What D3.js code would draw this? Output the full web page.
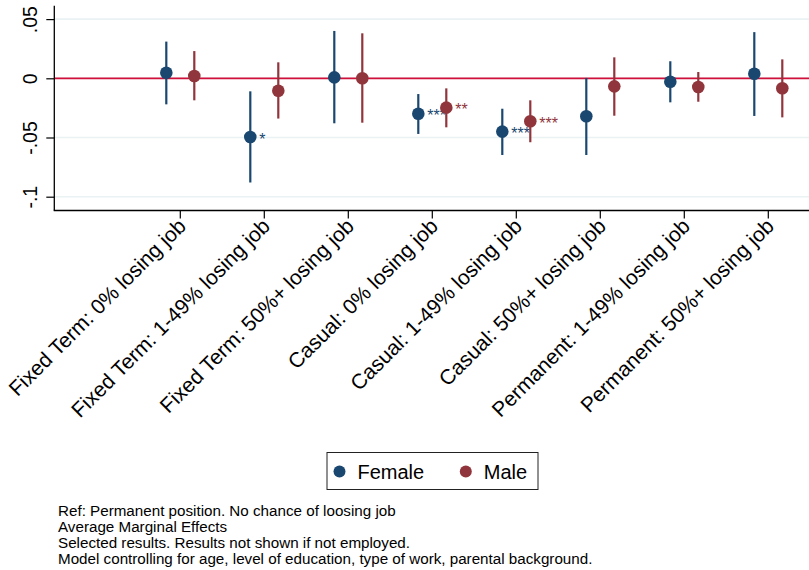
<!DOCTYPE html>
<html>
<head>
<meta charset="utf-8">
<script src="https://cdn.jsdelivr.net/npm/d3@7"></script>
<style>
  html, body { margin: 0; padding: 0; background: #fff; }
  svg { display: block; font-family: "Liberation Sans", Arial, Helvetica, sans-serif; }
</style>
</head>
<body>
<svg id="chart" width="809" height="570"></svg>
<script>
// Contract type x perceived chance of losing the job (reference: Permanent, 0%)
const categories = [
  "Fixed Term: 0% losing job",
  "Fixed Term: 1-49% losing job",
  "Fixed Term: 50%+ losing job",
  "Casual: 0% losing job",
  "Casual: 1-49% losing job",
  "Casual: 50%+ losing job",
  "Permanent: 1-49% losing job",
  "Permanent: 50%+ losing job"
];

// Average marginal effects with 95% confidence bounds
const femaleEst   = [0.0047, -0.0496, 0.0008, -0.0300, -0.0450, -0.0321, -0.0029, 0.0039];
const femaleLow   = [-0.0220, -0.0880, -0.0380, -0.0470, -0.0648, -0.0648, -0.0203, -0.0318];
const femaleHigh  = [0.0310, -0.0110, 0.0400, -0.0133, -0.0257, 0.0003, 0.0144, 0.0390];
const femaleStars = ["", "*", "", "***", "***", "", "", ""];

const maleEst   = [0.0020, -0.0105, 0.0000, -0.0248, -0.0363, -0.0068, -0.0073, -0.0084];
const maleLow   = [-0.0186, -0.0340, -0.0375, -0.0414, -0.0540, -0.0316, -0.0198, -0.0330];
const maleHigh  = [0.0230, 0.0135, 0.0380, -0.0085, -0.0186, 0.0177, 0.0053, 0.0160];
const maleStars = ["", "", "", "**", "***", "", "", ""];

const yTicks = [0.05, 0, -0.05, -0.1];
const yTickLabels = [".05", "0", "-.05", "-.1"];

const notes = [
  "Ref: Permanent position. No chance of loosing job",
  "Average Marginal Effects",
  "Selected results. Results not shown if not employed.",
  "Model controlling for age, level of education, type of work, parental background."
];

const series = [
  { name: "Female", color: "#1a476f", est: femaleEst, low: femaleLow, high: femaleHigh, stars: femaleStars, offset: -14 },
  { name: "Male",   color: "#90353b", est: maleEst,   low: maleLow,   high: maleHigh,   stars: maleStars,   offset: 14 }
];

const svg = d3.select("#chart");

const plot = { left: 54.3, right: 810.3, top: 5.7, bottom: 210.5 };

// The first band is the omitted reference category, left empty
const x = d3.scaleBand()
  .domain(["ref"].concat(categories))
  .range([plot.left, plot.right])
  .padding(0);
const cx = c => x(c) + x.bandwidth() / 2;

const y = d3.scaleLinear()
  .domain([-0.1, 0.05])
  .range([196.7, 19.1]);

// Gridlines
svg.append("g")
  .selectAll("line")
  .data(yTicks)
  .join("line")
  .attr("x1", plot.left)
  .attr("x2", plot.right)
  .attr("y1", d => y(d))
  .attr("y2", d => y(d))
  .attr("stroke", "#eaf2f3")
  .attr("stroke-width", 1.6);

// Zero reference line
svg.append("line")
  .attr("x1", plot.left)
  .attr("x2", plot.right)
  .attr("y1", y(0))
  .attr("y2", y(0))
  .attr("stroke", "#d0103a")
  .attr("stroke-width", 1.8);

// Y axis
const yAxis = d3.axisLeft(y)
  .tickValues(yTicks)
  .tickFormat((d, i) => yTickLabels[i])
  .tickSize(8)
  .tickSizeOuter(0);
const gy = svg.append("g")
  .attr("transform", `translate(${plot.left},0)`)
  .call(yAxis);
gy.select(".domain").remove();
gy.append("line")
  .attr("x1", 0).attr("x2", 0)
  .attr("y1", plot.top).attr("y2", plot.bottom)
  .attr("stroke", "#000").attr("stroke-width", 1.3);
gy.selectAll(".tick line").attr("stroke", "#000").attr("stroke-width", 1.2);
gy.selectAll(".tick text")
  .attr("x", null).attr("dy", null)
  .attr("transform", "translate(-17.6,0) rotate(-90)")
  .attr("text-anchor", "middle")
  .attr("font-size", 19.5)
  .attr("font-family", "Liberation Sans, Arial, sans-serif")
  .attr("fill", "#000");

// X axis
const xAxis = d3.axisBottom(x)
  .tickValues(categories)
  .tickSize(8)
  .tickSizeOuter(0);
const gx = svg.append("g")
  .attr("transform", `translate(0,${plot.bottom})`)
  .call(xAxis);
gx.select(".domain").remove();
gx.append("line")
  .attr("x1", plot.left - 0.6).attr("x2", plot.right)
  .attr("y1", 0).attr("y2", 0)
  .attr("stroke", "#000").attr("stroke-width", 1.3);
gx.selectAll(".tick line").attr("stroke", "#000").attr("stroke-width", 1.2);
gx.selectAll(".tick text")
  .attr("x", null).attr("y", null).attr("dy", null)
  .attr("transform", "translate(7,17) rotate(-45)")
  .attr("text-anchor", "end")
  .attr("font-size", 21)
  .attr("font-family", "Liberation Sans, Arial, sans-serif")
  .attr("fill", "#000");

// Confidence intervals, point estimates and significance stars
series.forEach(s => {
  const g = svg.append("g");
  g.selectAll("line")
    .data(categories)
    .join("line")
    .attr("x1", c => cx(c) + s.offset)
    .attr("x2", c => cx(c) + s.offset)
    .attr("y1", (c, i) => y(s.high[i]))
    .attr("y2", (c, i) => y(s.low[i]))
    .attr("stroke", s.color)
    .attr("stroke-width", 2.2);
  g.selectAll("circle")
    .data(categories)
    .join("circle")
    .attr("cx", c => cx(c) + s.offset)
    .attr("cy", (c, i) => y(s.est[i]))
    .attr("r", 6.3)
    .attr("fill", s.color);
  g.selectAll("text")
    .data(categories)
    .join("text")
    .attr("x", c => cx(c) + s.offset + 9)
    .attr("y", (c, i) => y(s.est[i]) + 7.5)
    .attr("font-size", 16)
    .attr("fill", s.color)
    .text((c, i) => s.stars[i]);
});

// Legend
const legend = svg.append("g");
legend.append("rect")
  .attr("x", 327).attr("y", 452.5)
  .attr("width", 211).attr("height", 37)
  .attr("fill", "#fff")
  .attr("stroke", "#222")
  .attr("stroke-width", 1);
const legendItems = legend.selectAll("g.item")
  .data(series)
  .join("g")
  .attr("class", "item")
  .attr("transform", (d, i) => `translate(${i === 0 ? 339.5 : 465.8},471.5)`);
legendItems.append("circle")
  .attr("r", 6)
  .attr("fill", d => d.color);
legendItems.append("text")
  .attr("x", 18)
  .attr("y", 7)
  .attr("font-size", 20)
  .attr("fill", "#000")
  .text(d => d.name);

// Notes under the chart
svg.append("g")
  .selectAll("text")
  .data(notes)
  .join("text")
  .attr("x", 58)
  .attr("y", (d, i) => 515.5 + i * 16)
  .attr("font-size", 15.2)
  .attr("fill", "#000")
  .text(d => d);
</script>
</body>
</html>
